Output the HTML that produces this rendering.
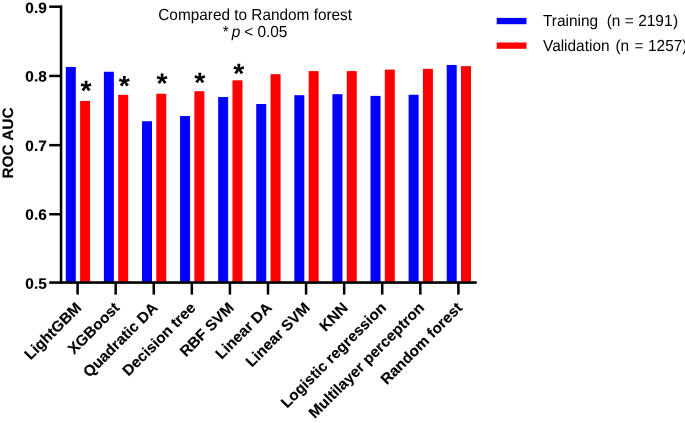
<!DOCTYPE html>
<html><head><meta charset="utf-8"><title>ROC AUC</title>
<style>
html,body{margin:0;padding:0;background:#fff;}
body{width:685px;height:423px;overflow:hidden;}
svg{display:block;}
text{font-family:"Liberation Sans",Arial,Helvetica,sans-serif;fill:#000;text-rendering:geometricPrecision;}
.b{font-weight:bold;font-size:15.35px;stroke:#000;stroke-width:0.15px;}
.r{font-size:15.42px;}
.a{font-weight:bold;font-size:28.4px;}
</style></head><body>
<svg width="685" height="423" viewBox="0 0 685 423">
<rect width="685" height="423" fill="#fff"/>
<rect x="65.80" y="66.95" width="10" height="215.60" fill="#0000ff"/>
<rect x="80.10" y="100.95" width="10" height="181.60" fill="#ff0000"/>
<rect x="103.89" y="71.75" width="10" height="210.80" fill="#0000ff"/>
<rect x="118.19" y="94.85" width="10" height="187.70" fill="#ff0000"/>
<rect x="141.98" y="121.25" width="10" height="161.30" fill="#0000ff"/>
<rect x="156.28" y="93.75" width="10" height="188.80" fill="#ff0000"/>
<rect x="180.07" y="116.05" width="10" height="166.50" fill="#0000ff"/>
<rect x="194.37" y="91.20" width="10" height="191.35" fill="#ff0000"/>
<rect x="218.16" y="97.00" width="10" height="185.55" fill="#0000ff"/>
<rect x="232.46" y="80.30" width="10" height="202.25" fill="#ff0000"/>
<rect x="256.25" y="104.00" width="10" height="178.55" fill="#0000ff"/>
<rect x="270.55" y="74.20" width="10" height="208.35" fill="#ff0000"/>
<rect x="294.34" y="95.20" width="10" height="187.35" fill="#0000ff"/>
<rect x="308.64" y="71.10" width="10" height="211.45" fill="#ff0000"/>
<rect x="332.43" y="94.20" width="10" height="188.35" fill="#0000ff"/>
<rect x="346.73" y="71.10" width="10" height="211.45" fill="#ff0000"/>
<rect x="370.52" y="95.90" width="10" height="186.65" fill="#0000ff"/>
<rect x="384.82" y="69.60" width="10" height="212.95" fill="#ff0000"/>
<rect x="408.61" y="94.75" width="10" height="187.80" fill="#0000ff"/>
<rect x="422.91" y="68.85" width="10" height="213.70" fill="#ff0000"/>
<rect x="446.70" y="64.95" width="10" height="217.60" fill="#0000ff"/>
<rect x="461.00" y="66.15" width="10" height="216.40" fill="#ff0000"/>
<rect x="59.8" y="5.3" width="2.5" height="278.55" fill="#000"/>
<rect x="49.2" y="281.25" width="427.60" height="2.6" fill="#000"/>
<rect x="49.2" y="5.45" width="11" height="2.5" fill="#000"/>
<text class="b" text-anchor="end" transform="translate(46.70,12.90) rotate(0.03) scale(1,0.98)">0.9</text>
<rect x="49.2" y="74.70" width="11" height="2.5" fill="#000"/>
<text class="b" text-anchor="end" transform="translate(46.70,81.60) rotate(0.03) scale(1,0.98)">0.8</text>
<rect x="49.2" y="143.90" width="11" height="2.5" fill="#000"/>
<text class="b" text-anchor="end" transform="translate(46.70,150.90) rotate(0.03) scale(1,0.98)">0.7</text>
<rect x="49.2" y="213.00" width="11" height="2.5" fill="#000"/>
<text class="b" text-anchor="end" transform="translate(46.70,219.85) rotate(0.03) scale(1,0.98)">0.6</text>
<text class="b" text-anchor="end" transform="translate(46.70,288.80) rotate(0.03) scale(1,0.98)">0.5</text>
<rect x="76.35" y="282" width="2.5" height="12.6" fill="#000"/>
<text class="b" text-anchor="end" transform="translate(82.40,308.70) rotate(-45) scale(1,0.98)">LightGBM</text>
<rect x="114.43" y="282" width="2.5" height="12.6" fill="#000"/>
<text class="b" text-anchor="end" transform="translate(120.48,308.70) rotate(-45) scale(1,0.98)">XGBoost</text>
<rect x="152.51" y="282" width="2.5" height="12.6" fill="#000"/>
<text class="b" text-anchor="end" transform="translate(158.56,308.70) rotate(-45) scale(1,0.98)">Quadratic DA</text>
<rect x="190.59" y="282" width="2.5" height="12.6" fill="#000"/>
<text class="b" text-anchor="end" transform="translate(196.64,308.70) rotate(-45) scale(1,0.98)">Decision tree</text>
<rect x="228.67" y="282" width="2.5" height="12.6" fill="#000"/>
<text class="b" text-anchor="end" transform="translate(234.72,308.70) rotate(-45) scale(1,0.98)">RBF SVM</text>
<rect x="266.75" y="282" width="2.5" height="12.6" fill="#000"/>
<text class="b" text-anchor="end" transform="translate(272.80,308.70) rotate(-45) scale(1,0.98)">Linear DA</text>
<rect x="304.83" y="282" width="2.5" height="12.6" fill="#000"/>
<text class="b" text-anchor="end" transform="translate(310.88,308.70) rotate(-45) scale(1,0.98)">Linear SVM</text>
<rect x="342.91" y="282" width="2.5" height="12.6" fill="#000"/>
<text class="b" text-anchor="end" transform="translate(348.96,308.70) rotate(-45) scale(1,0.98)">KNN</text>
<rect x="380.99" y="282" width="2.5" height="12.6" fill="#000"/>
<text class="b" text-anchor="end" transform="translate(387.04,308.70) rotate(-45) scale(1,0.98)">Logistic regression</text>
<rect x="419.07" y="282" width="2.5" height="12.6" fill="#000"/>
<text class="b" text-anchor="end" transform="translate(425.12,308.70) rotate(-45) scale(1,0.98)">Multilayer perceptron</text>
<rect x="457.15" y="282" width="2.5" height="12.6" fill="#000"/>
<text class="b" text-anchor="end" transform="translate(463.20,308.70) rotate(-45) scale(1,0.98)">Random forest</text>
<text class="b" text-anchor="middle" transform="translate(13.30,143.00) rotate(-90) scale(1,0.98)">ROC AUC</text>
<text class="a" text-anchor="middle" transform="translate(85.95,100.26) rotate(0.03)">*</text>
<text class="a" text-anchor="middle" transform="translate(124.25,95.56) rotate(0.03)">*</text>
<text class="a" text-anchor="middle" transform="translate(162.00,92.96) rotate(0.03)">*</text>
<text class="a" text-anchor="middle" transform="translate(199.75,92.26) rotate(0.03)">*</text>
<text class="a" text-anchor="middle" transform="translate(238.85,83.36) rotate(0.03)">*</text>
<text class="r" text-anchor="middle" transform="translate(255.15,20.00) scale(1,1.04)" style="font-size:15.36px">Compared to Random forest</text>
<text class="r" transform="translate(0,37) scale(1,1.04)"><tspan x="222.65">*</tspan><tspan x="231.8" font-style="italic">p</tspan><tspan x="244.35">&lt;</tspan><tspan x="257.4">0.05</tspan></text>
<rect x="496.7" y="17.9" width="29.8" height="6.3" fill="#0000ff"/>
<rect x="496.7" y="42.5" width="29.8" height="6.3" fill="#ff0000"/>
<text class="r" text-anchor="start" transform="translate(543.00,25.90) scale(1,1.04)" xml:space="preserve">Training  (n = <tspan dx="0.3">2191</tspan><tspan dx="0.4">)</tspan></text>
<text class="r" transform="translate(0,51) scale(1,1.04)"><tspan x="543.0">Validation</tspan><tspan x="615.45">(n</tspan><tspan x="634.45">=</tspan><tspan x="648.0">1257)</tspan></text>
</svg></body></html>
